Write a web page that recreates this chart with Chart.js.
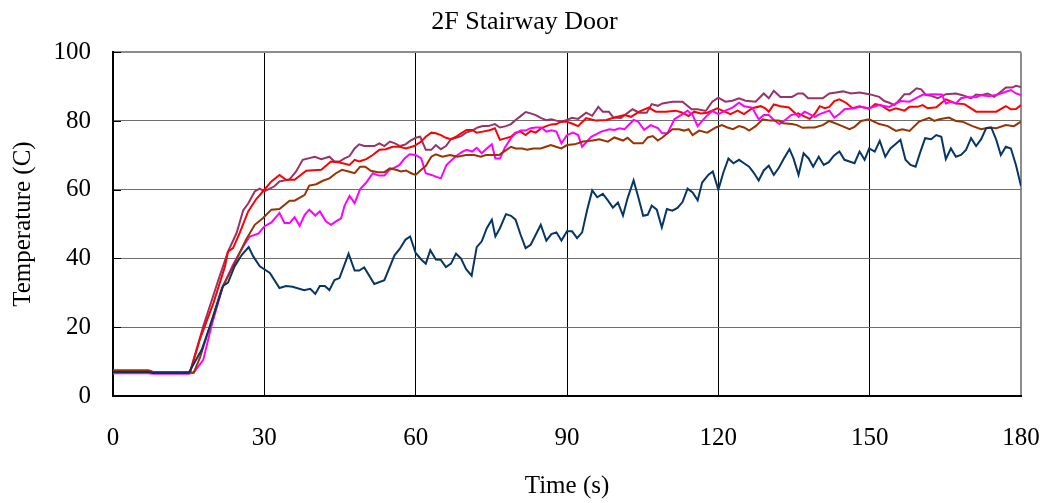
<!DOCTYPE html>
<html>
<head>
<meta charset="utf-8">
<script src="https://cdn.jsdelivr.net/npm/chart.js@4.4.1/dist/chart.umd.min.js"></script>
<style>
html,body{margin:0;padding:0;background:#fff;}
#wrap{width:1049px;height:503px;}
</style>
</head>
<body>
<div id="wrap"><canvas id="c" width="1049" height="503"></canvas></div>
<script>
// ---- Tick labels / axes ----
const xTicks = [0, 30, 60, 90, 120, 150, 180];
const yTicks = [0, 20, 40, 60, 80, 100];

// ---- Series: time (s) and temperature (C) ----
const navyT = [0,7,8,15,17.6,19.9,21.8,22.8,24.1,25.5,26.9,27.8,29.1,31.1,33,34.3,35.6,37.9,39.1,40.1,41,42,42.9,43.9,44.9,46.7,47.9,48.8,49.8,51.8,53.8,55.8,56.8,58,58.9,60,61.1,62,62.9,64,65,66,67,68,69,70,71.1,72.1,73.1,74.1,75.1,75.8,76.7,77.9,78.9,79.8,80.8,81.8,82.8,83.8,84.8,85.9,86.9,87.9,88.9,90,91,92,93,94,95,96,97.1,98.1,99.1,100.1,101.1,102,103.2,104.1,105.1,106,106.8,107.8,108.8,109.8,110.9,111.9,112.9,113.9,114.9,115.9,116.8,118,118.9,120,121,122,123,124.1,125.1,126.1,127,128,129,130,131,132,133,134.1,134.9,135.9,136.9,137.9,138.8,139.9,140.9,141.9,142.9,144,145,146,147,148,149,149.9,151,152,153.1,154.1,155.1,156.1,157.1,158.1,159.1,160,161,162.2,163.2,164.2,165.1,166.1,167.1,168.1,169.1,170.1,171.1,172.1,173.1,174.1,175.1,176,177,178,179,180];
const navyV = [7.0,7.0,6.7,6.7,13.5,23.2,32,33,37.7,41,43.3,40.6,37.7,35.8,31.4,32,31.8,30.8,31.2,29.7,32,32,30.8,33.7,34.3,41.4,36.5,36.5,37.4,32.6,33.7,40.9,42.7,45.5,46.4,41.6,39.7,38.5,42.4,39.7,39.6,37.5,38.5,41.4,40,36.9,35,43.3,45,48.8,51.3,46.4,48.8,52.9,52.4,51.3,46.9,43,44,46.9,49.8,45.2,47.1,47.6,45.2,47.9,47.9,45.9,47.6,54.2,59.8,57.8,58.8,56.9,54.8,56.3,52.5,57.5,62.7,58,52.4,52.7,55.4,54.2,49,54.4,53.9,54.7,56.4,60.3,59.2,56.9,62.1,64.3,65.3,60,65,69.1,67.7,68.7,67.7,66.7,65,62.7,65.6,67,64.3,66.4,69.1,71.8,69.1,64.3,70.6,69.1,66.7,69.6,67.2,68,69.9,71.1,68.7,68.2,67.7,71.1,68.7,72,71.1,74.2,69.6,72,73.2,74.5,68.7,67.2,66.7,70.8,75,74.7,75.9,75.4,68.9,72,69.6,70.1,71.6,75,72.7,74.7,77.9,78.1,74.5,70.1,72.5,72,67.2,61.1];

const magentaT = [0,7,8,15,16,17.9,19.5,21.8,23.8,25.8,27.1,28.8,30,31.4,33,34,35,36,37,38,38.9,40.1,41,42.2,43.2,44.2,45.2,45.9,46.9,47.9,49,50.2,51.5,52.7,53.8,54.8,55.8,56.8,57.8,58.8,60,61.1,62,63.1,64,65,66.1,67.2,68.3,69.3,70.1,71.2,72.1,73.1,74.1,75.1,75.8,76.7,77.7,78.9,79.8,80.8,81.8,82.8,83.8,84.9,85.9,86.9,87.9,88.9,90,91.2,92.2,93,94.8,96.8,98.4,99.4,100.4,101.4,103.2,104.1,105.3,106.6,108,108.9,109.9,111.3,112.6,113.9,114.9,115.9,117.5,118.8,120,121.4,122.8,124.1,125.1,126.7,128,129,130,131,132.1,133.3,134.4,135.4,135.9,137.1,138.1,139.1,140.1,142,143,144,145,147,148,149.9,151.9,153.9,156.1,157.9,159.1,160.5,162.5,164.3,165.1,166.1,167.1,168.1,169.1,171.1,172.1,173.7,175.7,177,178,179,180];
const magentaV = [6.6,6.6,6.5,6.5,6.8,10.5,20.3,32,38.2,43.5,46.4,47.2,49.3,50.5,53.2,50.3,50.3,52,49.5,52.7,54.2,52.5,53.7,50.8,49.8,50.8,51.7,55.3,58.2,56.1,60.2,62.1,64.8,64.1,64.1,65.8,66.4,67.2,69.1,70.3,70.1,69.1,64.8,64.3,63.8,63.3,67.2,68.7,70.1,71.1,71.6,71.1,72.2,70.6,72,73.2,69.1,69.1,72.3,75,76.4,77.2,77.2,77.9,78.1,78.1,76.9,77.3,76.9,73.5,75.9,76.6,75.9,72.5,75.4,76.9,77.6,77.4,77.9,77.6,80.3,79.8,77.4,78.8,77.9,76.4,76.4,80.5,81.7,83,81.7,78.5,81.2,82.9,82,83,83.9,85.3,84.3,83.9,80.5,81.7,81.7,80.3,79.1,80.3,81.7,82,81.2,82.7,82,81.2,82,83,81,82,83.4,83.7,84.1,83.7,84.6,84.1,85.8,85.6,86.6,87.6,87.8,87.7,85.1,85.6,85.1,86.6,86.9,86.9,87.5,87.2,87.8,88.5,89,88,87.5];

const redT = [0,7,8,15,15.3,17.2,19.9,22.2,22.8,23.8,25.1,26.8,28.4,30,31.4,33,34.3,36,38.3,41.3,43.2,44.9,46.9,47.9,48.8,50.2,51.5,52.8,54.1,55.4,56.8,58.1,59.7,61.1,62,63.1,64,65,66,67,68,69,70.1,71.2,72.1,73.3,74.4,75.2,75.7,76.7,77.9,78.9,79.8,80.8,81.8,82.8,83.8,84.9,85.9,86.9,87.9,88.9,90,91.2,92.2,93.8,95.8,97.8,99.4,101.4,102.7,104.3,106.2,107.6,109.6,111.6,112.9,114.1,115.2,116.5,117.8,119.8,120.8,122.4,123.8,125.1,126.7,128.4,129.3,130,131,132.3,134,135.4,135.8,138.1,139.1,140.1,141.1,142,143,144,145.3,146.6,148,149.9,151.1,152.2,153.9,155.2,156.9,157.9,159.5,160.5,161.5,163.2,165.1,167.1,168.8,171.1,173.1,175.1,177,178,179,180];
const redV = [7.2,7.2,6.8,6.8,7,16.4,27,37.7,42,43,47.4,53.7,57.3,60,62.4,64.3,62.9,62.9,65.5,65.8,68.2,67.9,67.2,68.7,68.2,68.9,70.1,71.6,71.8,72.5,72.5,72,72.7,74,75.4,76.6,76.4,75.9,75.1,74.7,75.4,76.4,77.4,77.4,76.6,76.9,77.2,77.6,77.9,74.5,75,75.4,76.6,76.9,75.9,77.1,76.6,77.9,78.5,79,79.1,79.8,79.8,79.1,78.5,80.8,80.1,80.3,81,81.7,81.2,82.7,83.9,82.7,82.7,83,82.4,81.4,82.7,82.2,82.4,83.7,83,82,83,82,83.7,84.3,83.7,82.7,84.8,84.3,83.9,82,82.2,80.6,82,84.3,83.7,84.1,85.8,86.3,85.3,83.7,84.3,83.5,84.9,84.6,83,83.7,83,84.1,84.1,84.6,83.7,84,86.3,85.1,84.9,82.7,82.7,82.7,84.3,83.4,83.5,84.6];

const purpleT = [0,7,8,15,15.3,17.9,20.9,22.8,24.5,25.8,26.8,28.1,29.1,30,32,33,35,36.3,37.6,40,41.3,42.9,43.9,44.9,45.9,46.9,47.9,48.8,49.8,51.8,52.8,53.8,54.9,55.9,56.9,58,58.9,60,60.9,62,63.1,64,65,66,67,68,69,70,71.2,72.3,73.3,74.4,75.7,76.7,77.9,78.9,79.8,80.8,81.8,82.8,83.8,84.9,85.9,86.9,87.9,88.9,90,91,92.2,93.8,95,96.2,97.1,98.3,99.2,100.7,101.7,103,104.3,105.8,106.8,108,108.9,110.9,112.9,114.7,115.9,117.5,118.8,120,121.4,122.8,124.1,125.4,127.4,129,130,131,132.3,134.6,135.8,136.8,137.8,139.1,140.7,142,143.4,144.7,146.3,148,149.9,151.9,152.9,153.9,154.9,155.9,156.9,157.9,159.3,160.2,161.2,162.2,163.5,165.1,167.1,168.4,170.1,171.1,172.1,173.4,174.7,176,177,178.3,179,180];
const purpleV = [7.3,7.3,6.9,6.9,7.2,20.3,33.8,42,47.4,54,56,59.5,60.3,59.5,61,62.4,63,65.3,68.7,69.6,68.9,69.6,68.2,68.2,69.1,69.8,72,73.2,72.7,72.7,73.5,72.7,74,73.5,72.7,73.2,74.2,75.1,75.4,71.6,71.6,73,71.8,72.7,74.7,75.1,75.6,76.6,77.2,78.1,78.5,78.5,79.1,78.1,78.5,79.1,80.3,81.4,82.6,82.2,81.7,80.8,80.2,80.5,80.1,79.8,80.3,80.9,80.6,82.4,81.5,84.1,82.7,82.7,81,80.9,82,83.4,82.4,82.4,84.9,84.4,85.1,85.6,85.6,83.4,83.4,82.9,85.6,86.8,85.6,85.9,86.6,85.9,85.6,88,86.6,88.8,87,87,88,88,86.6,86.6,86.6,88,88.3,88.6,88,88.3,87.8,87,85.8,85.3,84.6,86.1,87.8,87.8,89.5,89.2,87.5,87.3,86.6,87.8,88,87.5,86.6,87.7,87.5,88,87,88.5,89.7,89.7,90.2,89.9];

const brownT = [0,7,8,15,16,17.2,19.2,21.5,23.8,26.4,28.1,29.7,31.4,33,35,36,38,38.9,40.3,41.6,42.9,44.2,45.4,46.7,47.9,49,50,51.1,52.5,53.8,54.9,56.1,57.1,58.1,59.1,60,61.1,62,63.1,64,65.3,66.8,68.3,70,71.6,72.9,73.9,75.2,76.5,77.5,78.9,79.8,81.1,82.1,83.3,84.8,85.8,86.8,87.8,88.9,90,91.5,93.2,95.1,96.4,98.1,99.4,101.1,102,103.2,105,106,107,108,108.9,110.9,112.2,113.2,114.1,114.9,116.2,117.8,119.5,120.7,121.8,122.9,124.1,125.1,126.1,127.4,128.8,130.3,132,132.9,134.6,135.6,136.7,138.1,139.1,140.7,142,143.6,146,147,148.3,149.9,151.9,153.6,155.2,156.5,157.9,159.8,161.8,162.8,163.8,165.7,167.1,168.4,170.4,172.1,173.7,175.1,177,178.6,180];
const brownV = [7.5,7.5,7.0,7.0,6.8,11,20.3,31,37.7,45.5,49.8,51.7,54.2,54.4,56.8,56.8,58.5,61.2,61.6,62.6,63.3,64.8,65.8,65.3,64.8,66.7,66.7,65.5,65.1,65.1,66.2,65.8,65.3,65.6,64.8,64.3,65.8,66.9,69.6,70.3,69.6,70.1,69.6,70.1,70.1,69.6,70.1,70.1,70.1,71.1,72.5,72,72,71.6,72,72,72.5,73,72.5,72,73,73.2,74,74.3,74.7,74,75.2,74.3,75.1,73.5,73.5,75.2,75.6,74.3,75.2,77.6,77.6,77.2,77.6,75.9,77.2,76.6,78.1,78.8,78.1,77.6,78.5,78.1,77.2,78.5,80.5,80.1,80.1,79.3,79.1,78.8,78,78.1,78.1,78.8,80,79.1,77.6,78.3,80,80.5,79.1,78.5,77.1,77.6,77.1,79.8,80.9,80,80.5,81,80,79.8,78.5,77.6,78.1,77.9,78.8,78.5,79.8];

const seriesNames = ['Navy', 'Brown', 'Magenta', 'Red', 'Purple'];
const seriesColors = ['#063666', '#993300', '#ff00ff', '#ff0000', '#993366'];
const seriesTimes = [navyT, brownT, magentaT, redT, purpleT];
const seriesValues = [navyV, brownV, magentaV, redV, purpleV];

const FONT = "'Liberation Serif', 'Times New Roman', serif";

const datasets = seriesNames.map((name, i) => ({
  label: name,
  data: seriesTimes[i].map((t, j) => ({x: t, y: seriesValues[i][j]})),
  borderColor: seriesColors[i],
  backgroundColor: seriesColors[i],
  borderWidth: 2,
  pointRadius: 0,
  tension: 0,
  fill: false
}));

const innerTicks = {
  id: 'innerTicks',
  beforeDatasetsDraw(chart) {
    const {ctx, chartArea, scales} = chart;
    ctx.save();
    ctx.strokeStyle = '#000';
    ctx.lineWidth = 1;
    yTicks.forEach(v => {
      const y = Math.round(scales.y.getPixelForValue(v)) + 0.5;
      ctx.beginPath();
      ctx.moveTo(chartArea.left, y);
      ctx.lineTo(chartArea.left + 8, y);
      ctx.stroke();
    });
    ctx.restore();
  }
};

new Chart(document.getElementById('c'), {
  type: 'line',
  data: { datasets },
  plugins: [innerTicks],
  options: {
    responsive: false,
    animation: false,
    layout: { padding: { left: 28, right: 28, top: 0, bottom: 0 } },
    plugins: {
      legend: { display: false },
      tooltip: { enabled: false },
      title: {
        display: true,
        text: '2F Stairway Door',
        color: '#000',
        font: { family: FONT, size: 26, weight: 'normal' },
        padding: { top: 7, bottom: 14 }
      }
    },
    scales: {
      x: {
        type: 'linear',
        min: 0, max: 180,
        afterBuildTicks: s => { s.ticks = xTicks.map(v => ({value: v})); },
        afterFit: s => { s.height = 107; s.paddingRight = 0; s.paddingLeft = 0; },
        ticks: {
          color: '#000',
          font: { family: FONT, size: 25 },
          padding: 27,
          maxRotation: 0,
          autoSkip: false
        },
        grid: {
          color: c => (c.tick && c.tick.value === 180) ? '#8c8c8c' : '#000',
          lineWidth: c => (c.tick && c.tick.value === 180) ? 2 : 1,
          drawTicks: false
        },
        border: { display: true, color: '#000', width: 2 },
        title: {
          display: true,
          text: 'Time (s)',
          color: '#000',
          font: { family: FONT, size: 25 },
          padding: { top: 0, bottom: 2 }
        }
      },
      y: {
        min: 0, max: 100,
        afterBuildTicks: s => { s.ticks = yTicks.map(v => ({value: v})); },
        afterFit: s => { s.width = 85; },
        ticks: {
          color: '#000',
          font: { family: FONT, size: 25 },
          padding: 22
        },
        grid: {
          color: c => (c.tick && c.tick.value === 100) ? '#8c8c8c' : '#6e6e6e',
          lineWidth: c => (c.tick && c.tick.value === 100) ? 2 : 1,
          drawTicks: false
        },
        border: { display: true, color: '#000', width: 2 },
        title: {
          display: true,
          text: 'Temperature (C)',
          color: '#000',
          font: { family: FONT, size: 25 },
          padding: { top: -20, bottom: 0 }
        }
      }
    }
  }
});
</script>
</body>
</html>
